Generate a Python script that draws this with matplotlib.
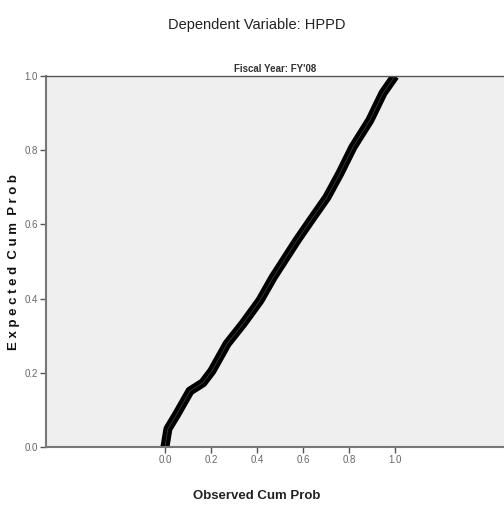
import matplotlib.pyplot as plt
import numpy as np

# observed vs expected cumulative probability
observed = [0.0, 0.013, 0.052, 0.109, 0.165, 0.204, 0.270, 0.339, 0.413, 0.470,
            0.574, 0.643, 0.704, 0.761, 0.817, 0.891, 0.948, 1.0]
expected = [0.0, 0.049, 0.089, 0.151, 0.173, 0.205, 0.278, 0.332, 0.395, 0.457,
            0.557, 0.619, 0.673, 0.738, 0.808, 0.881, 0.954, 1.0]
ticks = [0.0, 0.2, 0.4, 0.6, 0.8, 1.0]
tick_labels = ["0.0", "0.2", "0.4", "0.6", "0.8", "1.0"]

font = ["Liberation Sans", "DejaVu Sans"]

fig = plt.figure(figsize=(5.04, 5.08), dpi=100)
ax = fig.add_axes([0.0913, 0.12, 0.9087, 0.7304])
ax.set_facecolor("#efefef")

ax.plot(observed, expected, color="black", linewidth=6.5, solid_capstyle="butt",
        solid_joinstyle="round")
ax.plot(observed, expected, color="#555555", linewidth=0.6, alpha=0.7)

ax.set_xlim(-0.517, 1.474)
ax.set_ylim(0, 1)

ax.spines["right"].set_visible(False)
for s in ["left", "bottom"]:
    ax.spines[s].set_color("#777777")
    ax.spines[s].set_linewidth(1.5)
ax.spines["top"].set_color("#555555")
ax.spines["top"].set_linewidth(1.0)

ax.set_xticks(ticks)
ax.set_xticklabels(tick_labels, family=font, fontsize=7, color="#666666")
ax.set_yticks(ticks)
ax.set_yticklabels(tick_labels, family=font, fontsize=7, color="#666666")
ax.tick_params(axis="both", length=4, width=1, color="#555555", pad=2)

ax.set_title("Fiscal Year: FY'08", family=font, fontsize=7, fontweight="bold",
             color="#333333", pad=3)
fig.text(0.027, 0.484, "E x p e c t e d  C u m  P r o b", family=font, fontsize=9.5,
         fontweight="bold", color="#111111", rotation=90, ha="center", va="center")
fig.text(0.51, 0.023, "Observed Cum Prob", family=font, fontsize=9.5,
         fontweight="bold", color="#222222", ha="center", va="center")
fig.text(0.51, 0.951, "Dependent Variable: HPPD", family=font, fontsize=10.5,
         color="#222222", ha="center", va="center")

fig.savefig("out.png", dpi=100)
